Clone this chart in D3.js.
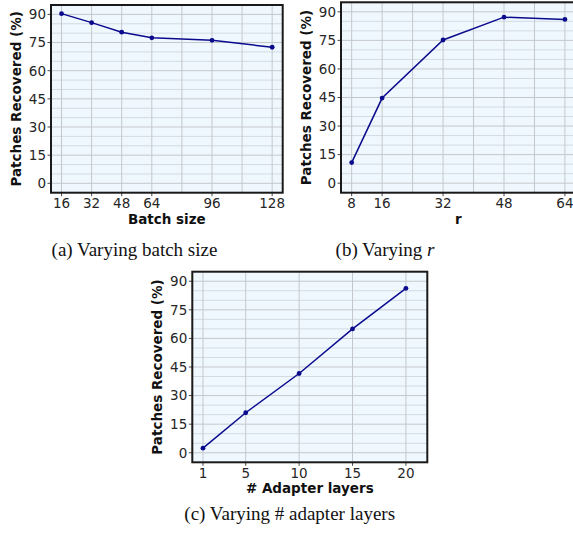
<!DOCTYPE html>
<html>
<head>
<meta charset="utf-8">
<title>Patches Recovered</title>
<script src="https://d3js.org/d3.v7.min.js"></script>
<style>
  body { margin: 0; background: #fff; }
  svg { display: block; }
  .tick-label { font-family: "DejaVu Sans", sans-serif; font-size: 13.5px; fill: #262626; }
  .axis-title { font-family: "DejaVu Sans", sans-serif; font-size: 13.5px; font-weight: bold; fill: #111; }
  .caption { font-family: "Liberation Serif", "Times New Roman", serif; font-size: 19px; fill: #111; }
</style>
</head>
<body>
<div id="chart"></div>
<script>
// values
var yTicks = [0, 15, 30, 45, 60, 75, 90];

var batchSizes = [16, 32, 48, 64, 96, 128];
var batchRecovered = [90.4, 85.6, 80.5, 77.5, 76.2, 72.5];
var batchTicks = [16, 32, 48, 64, 96, 128];
var batchGrid = [16, 32, 48, 64, 80, 96, 112, 128];

var rValues = [8, 16, 32, 48, 64];
var rRecovered = [10.8, 44.7, 75.2, 87.2, 86.0];
var rTicks = [8, 16, 32, 48, 64];
var rGrid = [8, 16, 24, 32, 40, 48, 56, 64];

var adapterLayers = [1, 5, 10, 15, 20];
var adapterRecovered = [2.4, 21.0, 41.6, 65.0, 86.3];
var adapterTicks = [1, 5, 10, 15, 20];

var W = 573, H = 535;

var svg = d3.select("#chart").append("svg")
    .attr("width", W)
    .attr("height", H);

function drawPanel(p) {
  var x = d3.scaleLinear().domain(p.xDomain).range([p.left, p.right]);
  var y = d3.scaleLinear().domain([-5, 95]).range([p.bottom, p.top]);
  var g = svg.append("g");

  g.append("rect")
    .attr("x", p.left).attr("y", p.top)
    .attr("width", p.right - p.left).attr("height", p.bottom - p.top)
    .attr("fill", "#f0f8ff");

  // horizontal grid, every 5
  var hGrid = d3.range(-5, 96, 5);
  g.selectAll(".hgrid")
    .data(hGrid)
    .enter().append("line")
      .attr("x1", p.left).attr("x2", p.right)
      .attr("y1", function (d) { return y(d); })
      .attr("y2", function (d) { return y(d); })
      .attr("stroke", function (d) { return d % 15 === 0 ? "#c4c8cc" : "#d3dae2"; })
      .attr("stroke-width", 1);

  g.selectAll(".vgrid")
    .data(p.grid)
    .enter().append("line")
      .attr("y1", p.top).attr("y2", p.bottom)
      .attr("x1", function (d) { return x(d); })
      .attr("x2", function (d) { return x(d); })
      .attr("stroke", "#c4c8cc")
      .attr("stroke-width", 1);

  var line = d3.line()
    .x(function (d) { return x(d[0]); })
    .y(function (d) { return y(d[1]); });

  var pts = p.xs.map(function (v, i) { return [v, p.ys[i]]; });

  g.append("path")
    .datum(pts)
    .attr("d", line)
    .attr("fill", "none")
    .attr("stroke", "#0a0a8c")
    .attr("stroke-width", 1.5);

  g.selectAll(".pt")
    .data(pts)
    .enter().append("circle")
      .attr("cx", function (d) { return x(d[0]); })
      .attr("cy", function (d) { return y(d[1]); })
      .attr("r", 2.4)
      .attr("fill", "#0a0a8c");

  // frame
  g.append("rect")
    .attr("x", p.left).attr("y", p.top)
    .attr("width", p.right - p.left).attr("height", p.bottom - p.top)
    .attr("fill", "none")
    .attr("stroke", "#1a1a1a")
    .attr("stroke-width", 2);

  // x ticks
  g.selectAll(".xt")
    .data(p.ticks)
    .enter().append("line")
      .attr("x1", function (d) { return x(d); })
      .attr("x2", function (d) { return x(d); })
      .attr("y1", p.bottom).attr("y2", p.bottom + 3.5)
      .attr("stroke", "#1a1a1a").attr("stroke-width", 0.8);

  g.selectAll(".xl")
    .data(p.ticks)
    .enter().append("text")
      .attr("class", "tick-label")
      .attr("x", function (d) { return x(d); })
      .attr("y", p.bottom + 15.5)
      .attr("text-anchor", "middle")
      .text(function (d) { return d; });

  // y ticks
  g.selectAll(".yt")
    .data(yTicks)
    .enter().append("line")
      .attr("x1", p.left - 3.5).attr("x2", p.left)
      .attr("y1", function (d) { return y(d); })
      .attr("y2", function (d) { return y(d); })
      .attr("stroke", "#1a1a1a").attr("stroke-width", 0.8);

  g.selectAll(".yl")
    .data(yTicks)
    .enter().append("text")
      .attr("class", "tick-label")
      .attr("x", p.left - 5)
      .attr("y", function (d) { return y(d); })
      .attr("dy", "0.36em")
      .attr("text-anchor", "end")
      .text(function (d) { return d; });

  g.append("text")
    .attr("class", "axis-title")
    .attr("x", (p.left + p.right) / 2)
    .attr("y", p.bottom + 31)
    .attr("text-anchor", "middle")
    .text(p.xLabel);

  g.append("text")
    .attr("class", "axis-title")
    .attr("transform", "translate(" + (p.left - 30) + "," + ((p.top + p.bottom) / 2) + ") rotate(-90)")
    .attr("text-anchor", "middle")
    .text("Patches Recovered (%)");

  var cap = g.append("text")
    .attr("class", "caption")
    .attr("x", p.capX)
    .attr("y", p.capY)
    .attr("text-anchor", "middle");
  cap.append("tspan").text(p.caption);
  if (p.captionItalic) {
    cap.append("tspan").attr("font-style", "italic").text(p.captionItalic);
  }
}

drawPanel({
  left: 51, right: 282.7, top: 5, bottom: 192.7,
  xDomain: [10.4, 133.6],
  xs: batchSizes, ys: batchRecovered,
  ticks: batchTicks, grid: batchGrid,
  xLabel: "Batch size",
  caption: "(a) Varying batch size",
  capX: 134.5, capY: 255.5
});

drawPanel({
  left: 341, right: 575.6, top: 2.3, bottom: 192.7,
  xDomain: [5.2, 66.8],
  xs: rValues, ys: rRecovered,
  ticks: rTicks, grid: rGrid,
  xLabel: "r",
  caption: "(b) Varying ",
  captionItalic: "r",
  capX: 385, capY: 255.5
});

drawPanel({
  left: 192.3, right: 427.3, top: 271.7, bottom: 462.3,
  xDomain: [0, 22],
  xs: adapterLayers, ys: adapterRecovered,
  ticks: adapterTicks, grid: adapterTicks,
  xLabel: "# Adapter layers",
  caption: "(c) Varying # adapter layers",
  capX: 289.7, capY: 520
});
</script>
</body>
</html>
